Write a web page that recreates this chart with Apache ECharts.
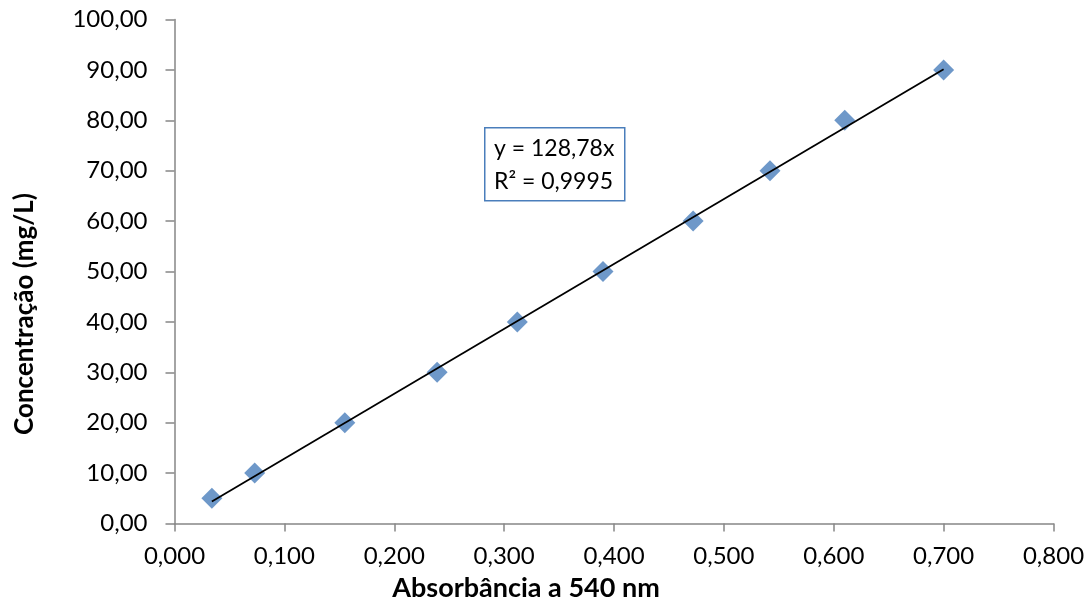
<!DOCTYPE html>
<html>
<head>
<meta charset="utf-8">
<script src="https://cdn.jsdelivr.net/npm/echarts@6/dist/echarts.min.js"></script>
<style>
  html, body { margin: 0; padding: 0; background: #fff; }
  #chart { width: 1092px; height: 606px; }
</style>
</head>
<body>
<div id="chart"></div>
<script>
// Calibration standards: absorbance at 540 nm vs concentration (mg/L)
const absorbance = [0.034, 0.073, 0.155, 0.239, 0.312, 0.390, 0.472, 0.542, 0.610, 0.700];
const concentration = [5, 10, 20, 30, 40, 50, 60, 70, 80, 90];

// Linear fit through origin
const slope = 128.78;
const rSquared = 0.9995;

const xTitle = 'Absorbância a 540 nm';
const yTitle = 'Concentração (mg/L)';

const fmt = (v, d) => v.toFixed(d).replace('.', ',');

const points = absorbance.map((a, i) => [a, concentration[i]]);
const xFirst = Math.min(...absorbance);
const xLast = Math.max(...absorbance);
const trend = [[xFirst, slope * xFirst], [xLast, slope * xLast]];

const FONT = 'Lato, "Open Sans", sans-serif';
const axisGray = '#868686';
const markerBlue = '#4a7ebb';

const chart = echarts.init(document.getElementById('chart'), null, { renderer: 'canvas' });
chart.setOption({
  animation: false,
  backgroundColor: '#ffffff',
  grid: { left: 174.5, right: 38.5, top: 19.5, bottom: 82.5, containLabel: false },
  xAxis: {
    type: 'value',
    min: 0, max: 0.8, interval: 0.1,
    axisLine: { show: true, lineStyle: { color: axisGray, width: 1.5 } },
    axisTick: { show: true, inside: false, length: 8, lineStyle: { color: axisGray, width: 1.5 } },
    axisLabel: { fontFamily: FONT, fontSize: 24, color: '#000', margin: 21, formatter: v => fmt(v, 3) },
    splitLine: { show: false }
  },
  yAxis: {
    type: 'value',
    min: 0, max: 100, interval: 10,
    axisLine: { show: true, lineStyle: { color: axisGray, width: 1.5 } },
    axisTick: { show: true, inside: false, length: 9, lineStyle: { color: axisGray, width: 1.5 } },
    axisLabel: { fontFamily: FONT, fontSize: 24, color: '#000', margin: 27, formatter: v => fmt(v, 2) },
    splitLine: { show: false }
  },
  series: [
    {
      type: 'scatter',
      data: points,
      symbol: 'diamond',
      symbolSize: [21, 21],
      itemStyle: { color: markerBlue },
      z: 2
    },
    {
      type: 'line',
      data: trend,
      symbol: 'none',
      lineStyle: { color: '#000', width: 1.8 },
      z: 3
    }
  ],
  graphic: [
    // axis titles
    {
      type: 'text',
      x: 526, y: 588,
      style: {
        text: xTitle, font: 'bold 27px ' + FONT, fill: '#000',
        align: 'center', verticalAlign: 'middle'
      }
    },
    {
      type: 'text',
      x: 25, y: 314,
      rotation: Math.PI / 2,
      style: {
        text: yTitle, font: 'bold 26px ' + FONT, fill: '#000',
        align: 'center', verticalAlign: 'middle'
      }
    },
    // trendline equation box
    {
      type: 'rect',
      left: 484, top: 127,
      shape: { width: 140, height: 73 },
      style: { fill: '#fff', stroke: markerBlue, lineWidth: 1.5 },
      z: 10
    },
    {
      type: 'text',
      x: 494, y: 132.5,
      style: {
        text: 'y = ' + fmt(slope, 2) + 'x\nR² = ' + fmt(rSquared, 4),
        font: '23px ' + FONT,
        fill: '#000',
        lineHeight: 33
      },
      z: 11
    }
  ]
});
</script>
</body>
</html>
